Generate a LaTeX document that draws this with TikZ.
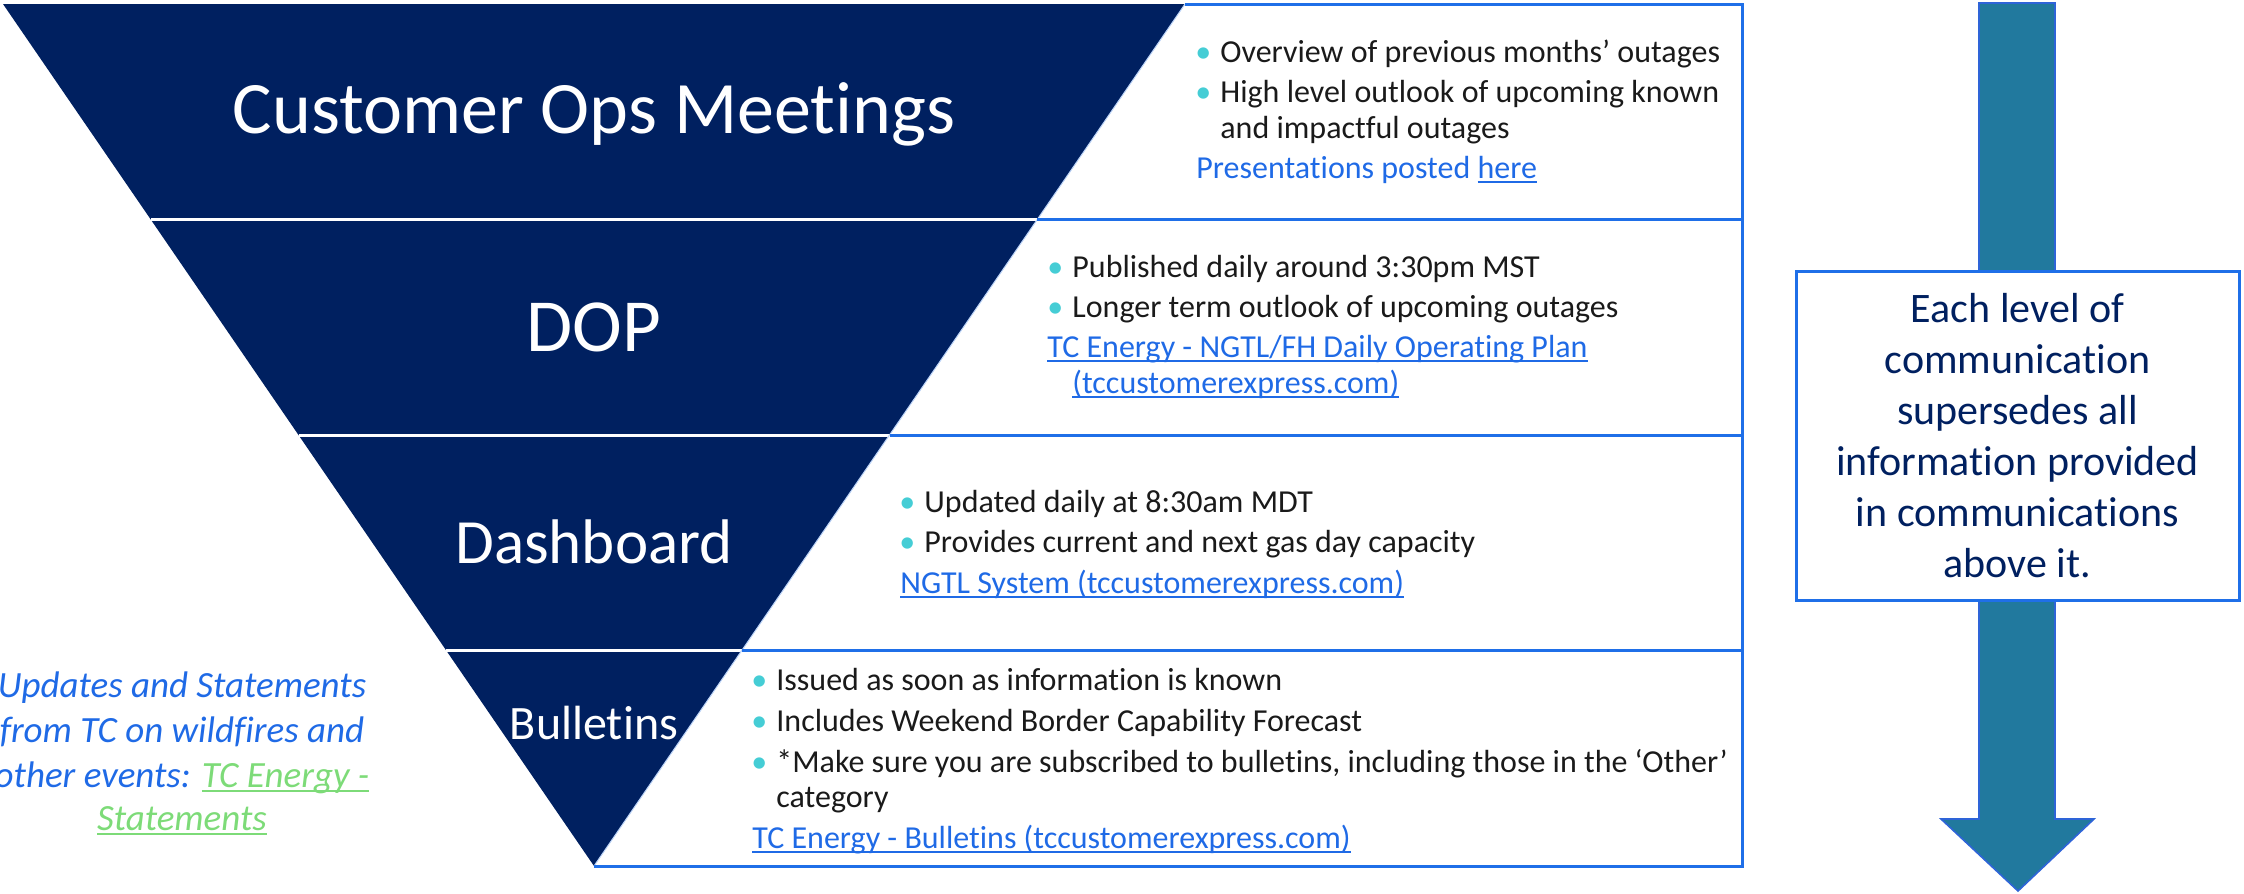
\documentclass[tikz,border=0pt]{standalone}
\usepackage{fontspec}
\setmainfont{Carlito}[Ligatures={NoCommon}]
\usetikzlibrary{calc}
\definecolor{navy}{HTML}{002060}
\definecolor{bord}{HTML}{1F6FE8}
\definecolor{linkc}{HTML}{1F6AE6}
\definecolor{bulc}{HTML}{45CDD5}
\definecolor{txt}{HTML}{1A1A1A}
\definecolor{arrowc}{HTML}{21799E}
\definecolor{arrowb}{HTML}{2E64D8}
\definecolor{greenc}{HTML}{7DDB78}
\newcommand{\bl}{\makebox[17pt][c]{\textcolor{bulc}{•}}}
\newcommand{\uln}[1]{\setbox0\hbox{#1}\rlap{\rule[-2.4pt]{\wd0}{1pt}}\box0}
\begin{document}
\begin{tikzpicture}[x=0.5pt,y=-0.5pt,
  sep/.style={draw=white,line width=1.5pt},
  boxline/.style={draw=bord,line width=1.5pt},
  edgeline/.style={draw=bord!30,line width=0.5pt},
  ttl/.style={text=white,inner sep=0pt,anchor=base},
  ln/.style={text=txt,inner sep=0pt,anchor=base west,font=\fontsize{16}{19.5}\selectfont},
  lk/.style={ln,text=linkc},
  side/.style={text=linkc,inner sep=0pt,anchor=base,font=\fontsize{18.5}{22}\selectfont\itshape},
  note/.style={draw=bord,line width=1.5pt,fill=white,minimum width=221.5pt,minimum height=164.5pt,inner sep=0pt,align=center,text=navy,font=\fontsize{21}{25.5}\selectfont},
  arrowshape/.style={draw=arrowb,fill=arrowc,line width=0.8pt},
]
\useasboundingbox (0,0) rectangle (2244,894);
% funnel
\coordinate (TL) at (3,4);
\coordinate (TR) at (1185,4);
\coordinate (A) at (594,866);
\coordinate (L1) at ($(TL)!0.25!(A)$);
\coordinate (R1) at ($(TR)!0.25!(A)$);
\coordinate (L2) at ($(TL)!0.5!(A)$);
\coordinate (R2) at ($(TR)!0.5!(A)$);
\coordinate (L3) at ($(TL)!0.75!(A)$);
\coordinate (R3) at ($(TR)!0.75!(A)$);
\coordinate (XT) at (1742,4);
\fill[navy] (TL) -- (TR) -- (A) -- cycle;
\draw[sep] (L1) -- (R1);
\draw[sep] (L2) -- (R2);
\draw[sep] (L3) -- (R3);
% boxes
\draw[edgeline] (TR) -- (A);
\draw[boxline] (TR) -- (XT) -- (XT|-A) -- (A);
\draw[boxline] (R1) -- (XT|-R1);
\draw[boxline] (R2) -- (XT|-R2);
\draw[boxline] (R3) -- (XT|-R3);
% titles
\node[ttl,font=\fontsize{37}{44}\selectfont] (t1) at (594,133) {Customer Ops Meetings};
\node[ttl,font=\fontsize{37.5}{44}\selectfont] (t2) at (594,351) {DOP};
\node[ttl,font=\fontsize{31.5}{38}\selectfont] (t3) at (594,563) {Dashboard};
\node[ttl,font=\fontsize{24}{29}\selectfont] (t4) at (594,739) {Bulletins};
% box 1
\node[ln] (a1) at (1186,62) {\bl Overview of previous months’ outages};
\node[ln] (a2) at (1186,102) {\bl High level outlook of upcoming known};
\node[ln] (a3) at (1220,138) {and impactful outages};
\node[lk] (a4) at (1196,178) {Presentations posted \uln{here}};
% box 2
\node[ln] (b1) at (1038,277) {\bl Published daily around 3:30pm MST};
\node[ln] (b2) at (1038,317) {\bl Longer term outlook of upcoming outages};
\node[lk] (b3) at (1047,357) {\uln{TC Energy - NGTL/FH Daily Operating Plan}};
\node[lk] (b4) at (1072,393) {\uln{(tccustomerexpress.com)}};
% box 3
\node[ln] (c1) at (890,512) {\bl Updated daily at 8:30am MDT};
\node[ln] (c2) at (890,552) {\bl Provides current and next gas day capacity};
\node[lk] (c3) at (900,593) {\uln{NGTL System (tccustomerexpress.com)}};
% box 4
\node[ln] (d1) at (742,690) {\bl Issued as soon as information is known};
\node[ln] (d2) at (742,731) {\bl Includes Weekend Border Capability Forecast};
\node[ln] (d3) at (742,772) {\bl *Make sure you are subscribed to bulletins, including those in the ‘Other’};
\node[ln] (d4) at (776,807) {category};
\node[lk] (d5) at (752,848) {\uln{TC Energy - Bulletins (tccustomerexpress.com)}};
% side text
\node[side] (s1) at (182,697) {Updates and Statements};
\node[side] (s2) at (182,742) {from TC on wildfires and};
\node[side] (s3) at (182,787) {other events: \textcolor{greenc}{\uln{TC Energy -}}};
\node[side,text=greenc] (s4) at (182,830) {\uln{Statements}};
% arrow and note
\draw[arrowshape] (1979,3) -- (2055,3) -- (2055,819) -- (2094,819) -- (2018,891) -- (1941,819) -- (1979,819) -- cycle;
\node[note] (n) at (2017.5,435.5) {Each level of\\communication\\supersedes all\\information provided\\in communications\\above it.};
\end{tikzpicture}
\end{document}
